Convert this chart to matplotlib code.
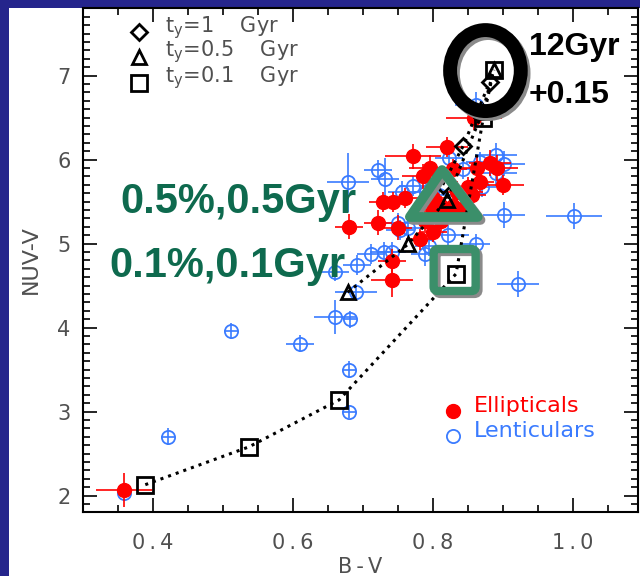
import matplotlib
matplotlib.use('Agg')
import matplotlib.pyplot as plt
from matplotlib.patches import Rectangle, Ellipse, Polygon, FancyBboxPatch
from matplotlib.ticker import MultipleLocator, FuncFormatter

# ellipticals (red, filled)
ell_bv = [0.359, 0.680, 0.721, 0.729, 0.743, 0.760, 0.750, 0.741, 0.741, 0.771,
          0.786, 0.796, 0.800, 0.788, 0.800, 0.811, 0.782, 0.820, 0.829, 0.835,
          0.852, 0.858, 0.863, 0.881, 0.891, 0.867, 0.900, 0.850, 0.856, 0.829,
          0.812, 0.800, 0.825, 0.840]
ell_nuv = [2.07, 5.20, 5.25, 5.50, 5.50, 5.54, 5.19, 4.79, 4.57, 6.04,
           5.80, 5.90, 5.54, 5.27, 5.14, 5.27, 5.05, 6.15, 5.89, 5.62,
           5.62, 6.50, 5.90, 5.96, 5.90, 5.73, 5.70, 5.67, 5.58, 5.45,
           5.45, 5.40, 5.35, 5.40]
ell_xerr = [0.04, 0.02, 0.02, 0.02, 0.02, 0.02, 0.02, 0.02, 0.03, 0.04,
            0.03, 0.03, 0.02, 0.02, 0.02, 0.02, 0.02, 0.03, 0.02, 0.02,
            0.02, 0.04, 0.03, 0.03, 0.03, 0.02, 0.03, 0.02, 0.02, 0.02,
            0.02, 0.02, 0.02, 0.02]
ell_yerr = [0.20, 0.15, 0.15, 0.12, 0.12, 0.12, 0.15, 0.15, 0.20, 0.15,
            0.15, 0.15, 0.10, 0.12, 0.12, 0.12, 0.12, 0.12, 0.12, 0.12,
            0.12, 0.15, 0.15, 0.15, 0.15, 0.12, 0.12, 0.12, 0.12, 0.12,
            0.12, 0.12, 0.12, 0.12]

# lenticulars (blue, open)
len_bv = [0.359, 0.421, 0.511, 0.610, 0.680, 0.680, 0.660, 0.681, 0.690, 0.660,
          0.692, 0.712, 0.730, 0.741, 0.753, 0.765, 0.756, 0.771, 0.679, 0.721,
          0.731, 0.788, 0.794, 0.821, 0.861, 0.902, 1.001, 0.921, 0.902, 0.890,
          0.861, 0.867, 0.823, 0.843, 0.870, 0.890, 0.790, 0.808, 0.750]
len_nuv = [2.03, 2.70, 3.96, 3.81, 3.50, 3.00, 4.13, 4.10, 4.42, 4.66,
           4.75, 4.88, 4.90, 4.90, 5.16, 5.19, 5.62, 5.69, 5.73, 5.88,
           5.77, 4.88, 4.97, 5.10, 5.00, 5.34, 5.33, 4.52, 5.95, 6.05,
           6.65, 5.97, 6.02, 5.89, 5.67, 5.84, 5.62, 5.58, 5.24]
len_xerr = [0.01, 0.01, 0.01, 0.02, 0.01, 0.01, 0.03, 0.01, 0.03, 0.02,
            0.02, 0.02, 0.02, 0.02, 0.02, 0.02, 0.02, 0.02, 0.03, 0.02,
            0.02, 0.02, 0.02, 0.03, 0.02, 0.03, 0.04, 0.03, 0.03, 0.03,
            0.03, 0.02, 0.02, 0.02, 0.02, 0.03, 0.02, 0.02, 0.02]
len_yerr = [0.05, 0.10, 0.10, 0.10, 0.10, 0.08, 0.20, 0.10, 0.10, 0.10,
            0.12, 0.12, 0.12, 0.12, 0.12, 0.12, 0.12, 0.12, 0.35, 0.12,
            0.25, 0.15, 0.12, 0.12, 0.12, 0.15, 0.15, 0.15, 0.15, 0.15,
            0.15, 0.12, 0.12, 0.12, 0.12, 0.15, 0.12, 0.12, 0.12]

# model tracks
sq_bv = [0.389, 0.537, 0.666, 0.833, 0.872, 0.887]
sq_nuv = [2.13, 2.58, 3.14, 4.64, 6.50, 7.07]
tri_bv = [0.678, 0.764, 0.820, 0.871, 0.887]
tri_nuv = [4.42, 4.99, 5.52, 6.57, 7.07]
dia_bv = [0.814, 0.843, 0.881]
dia_nuv = [5.70, 6.16, 6.92]
model_labels = ['1', '0.5', '0.1']

red = '#ff0000'
blue = '#3a7bff'
green_txt = '#0e6a4e'
green_box = '#3b8f6a'
grey_txt = '#505050'
SP = '\u2009'


def spaced(s):
    return SP.join(s)


fig = plt.figure(figsize=(6.4, 5.76), dpi=100, facecolor='#25258c')
fig.add_artist(Rectangle((9 / 640, 0), 1, 568 / 576, transform=fig.transFigure,
                         facecolor='white', edgecolor='none', zorder=0))
ax = fig.add_axes([83 / 640, 64 / 576, 555 / 640, 504 / 576])
ax.set_xlim(0.3, 1.093)
ax.set_ylim(1.805, 7.805)

ax.errorbar(len_bv, len_nuv, xerr=len_xerr, yerr=len_yerr, fmt='o', ms=9.5,
            mfc='none', mec=blue, mew=1.3, ecolor=blue, elinewidth=1.2,
            capsize=0, zorder=2)
ax.errorbar(ell_bv, ell_nuv, xerr=ell_xerr, yerr=ell_yerr, fmt='o', ms=10,
            mfc=red, mec=red, ecolor=red, elinewidth=1.2, capsize=0, zorder=3)

mk = dict(color='black', ls=':', lw=2.2, mfc='none', mec='black', mew=2, zorder=4)
ax.plot(sq_bv, sq_nuv, marker='s', ms=12, **mk)
ax.plot(tri_bv, tri_nuv, marker='^', ms=10, **mk)
ax.plot(dia_bv, dia_nuv, marker='D', ms=8, **mk)

# model legend
for m, s, yy, t in zip(['D', '^', 's'], [8, 10, 11], [0.952, 0.903, 0.851], model_labels):
    ax.plot([0.1005], [yy], marker=m, ms=s, mfc='none', mec='black', mew=2,
            transform=ax.transAxes, clip_on=False, zorder=6)
    ax.text(0.148, yy + 0.01, 't$_\\mathregular{y}$=' + t + '    Gyr',
            transform=ax.transAxes, fontsize=15, family='DejaVu Sans',
            color=grey_txt, va='center')

# sample legend
ax.plot([0.829], [3.007], 'o', ms=10, color=red, zorder=6)
ax.plot([0.829], [2.71], 'o', ms=9.5, mfc='none', mec=blue, mew=1.3, zorder=6)
ax.text(0.858, 3.07, 'Ellipticals', color=red, fontsize=16,
        family='DejaVu Sans', va='center')
ax.text(0.858, 2.77, 'Lenticulars', color=blue, fontsize=16,
        family='DejaVu Sans', va='center')

# highlight shapes (grey shadow first, then colour)
for dx, dy, c, z in [(0.004, -0.035, '#8a8a8a', 6.9), (0, 0, None, 7)]:
    ax.add_patch(Ellipse((0.875 + dx, 7.06 + dy), 0.101, 0.964, fill=False,
                         lw=10, ec=c or 'black', zorder=z))
    ax.add_patch(Polygon([(0.813 + dx, 5.876 + dy), (0.767 + dx, 5.317 + dy),
                          (0.864 + dx, 5.317 + dy)], closed=True, fill=False,
                         lw=7, joinstyle='round', ec=c or green_box, zorder=z))
    ax.add_patch(FancyBboxPatch((0.801 + dx, 4.436 + dy), 0.060, 0.50,
                                boxstyle='round,pad=0,rounding_size=0.006',
                                mutation_aspect=8.3, fill=False, lw=6,
                                ec=c or green_box, zorder=z))

ax.text(0.353, 5.495, '0.5%,0.5Gyr', color=green_txt, fontsize=30,
        family='Liberation Sans', weight='bold', va='center', zorder=8)
ax.text(0.337, 4.733, '0.1%,0.1Gyr', color=green_txt, fontsize=30,
        family='Liberation Sans', weight='bold', va='center', zorder=8)
ax.text(0.937, 7.34, '12Gyr', color='black', fontsize=23,
        family='Liberation Sans', weight='bold', va='center', zorder=8)
ax.text(0.937, 6.77, '+0.15', color='black', fontsize=23,
        family='Liberation Sans', weight='bold', va='center', zorder=8)

ax.xaxis.set_major_locator(MultipleLocator(0.2))
ax.xaxis.set_minor_locator(MultipleLocator(0.05))
ax.xaxis.set_major_formatter(FuncFormatter(lambda v, p: spaced('%.1f' % v)))
ax.yaxis.set_major_locator(MultipleLocator(1))
ax.yaxis.set_minor_locator(MultipleLocator(0.1))
ax.yaxis.set_major_formatter(FuncFormatter(lambda v, p: '%d' % round(v)))
ax.tick_params(which='both', direction='in', top=True, right=True, width=1.2,
               labelsize=15, labelcolor=grey_txt)
ax.tick_params(which='major', length=10)
ax.tick_params(which='minor', length=5)
ax.tick_params(axis='x', pad=15)
ax.tick_params(axis='y', pad=9)
for sp in ax.spines.values():
    sp.set_linewidth(1.5)

ax.set_xlabel(spaced('B-V'), fontsize=15, color=grey_txt, labelpad=3)
ax.set_ylabel('NUV-V', fontsize=16, color=grey_txt, labelpad=12)

fig.savefig('out.png', dpi=100, facecolor=fig.get_facecolor())
